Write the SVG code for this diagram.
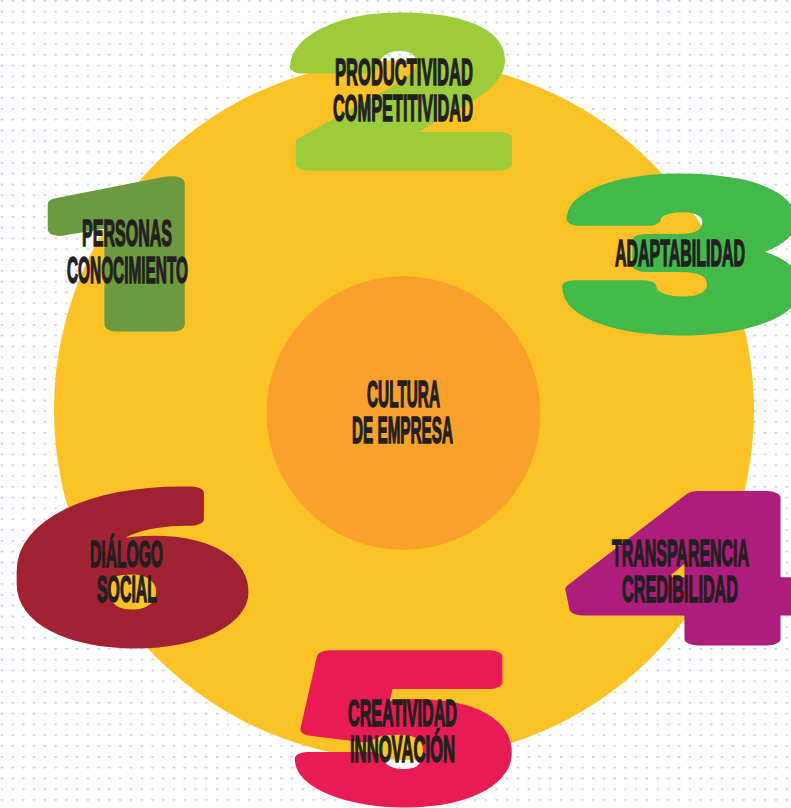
<svg xmlns="http://www.w3.org/2000/svg" width="791" height="808" viewBox="0 0 791 808">
  <defs>
    <pattern id="dots" x="0" y="0" width="10.75" height="10.8" patternUnits="userSpaceOnUse">
      <circle cx="1.95" cy="0.5" r="1.3" fill="#bcd3f0"/>
    </pattern>
  </defs>
  <style>
    .digit { font-family: "Roboto", "Liberation Sans", sans-serif; font-weight: 900; text-anchor: middle; stroke-linejoin: round; stroke-width: 13; }
    .lbl { font-family: "Liberation Sans", "DejaVu Sans", sans-serif; font-weight: bold; font-size: 36px; fill: #231f20; stroke: #231f20; stroke-width: 1.5; text-anchor: middle; }
  </style>
  <rect width="791" height="808" fill="#ffffff"/>
  <rect width="791" height="808" fill="url(#dots)"/>

  <g id="outer-circle">
    <circle cx="404" cy="410" r="350" fill="#fdc326"/>
  </g>

  <g id="node-1">
    <text class="digit" transform="translate(132 325) scale(1.75 1)" font-size="200" fill="#6e9a3f" stroke="#6e9a3f">1</text>
    <text class="lbl" x="127" y="246" textLength="90" lengthAdjust="spacingAndGlyphs">PERSONAS</text>
    <text class="lbl" x="127.5" y="283" textLength="121" lengthAdjust="spacingAndGlyphs">CONOCIMIENTO</text>
  </g>

  <g id="node-2">
    <text class="digit" transform="translate(403 164) scale(1.92 1)" font-size="201" fill="#9ccb3b" stroke="#9ccb3b">2</text>
    <text class="lbl" x="404" y="85" textLength="138" lengthAdjust="spacingAndGlyphs">PRODUCTIVIDAD</text>
    <text class="lbl" x="403" y="121" textLength="140" lengthAdjust="spacingAndGlyphs">COMPETITIVIDAD</text>
  </g>

  <g id="node-3">
    <text class="digit" transform="translate(685 327) scale(2.02 1)" font-size="204" fill="#43b84b" stroke="#43b84b">3</text>
    <text class="lbl" x="680" y="266" textLength="130" lengthAdjust="spacingAndGlyphs">ADAPTABILIDAD</text>
  </g>

  <g id="node-4">
    <text class="digit" transform="translate(688 639) scale(2.1 1)" font-size="199" fill="#ad1e7c" stroke="#ad1e7c">4</text>
    <text class="lbl" x="680.5" y="566" textLength="137" lengthAdjust="spacingAndGlyphs">TRANSPARENCIA</text>
    <text class="lbl" x="680" y="602" textLength="116" lengthAdjust="spacingAndGlyphs">CREDIBILIDAD</text>
  </g>

  <g id="node-5">
    <text class="digit" transform="translate(404 799) scale(1.93 1)" font-size="200" fill="#e91b54" stroke="#e91b54">5</text>
    <text class="lbl" x="402.5" y="726" textLength="109" lengthAdjust="spacingAndGlyphs">CREATIVIDAD</text>
    <text class="lbl" x="402.5" y="762" textLength="105" lengthAdjust="spacingAndGlyphs">INNOVACIÓN</text>
  </g>

  <g id="node-6">
    <text class="digit" transform="translate(130 640) scale(1.98 1)" font-size="204" fill="#a12333" stroke="#a12333">6</text>
    <text class="lbl" x="126.5" y="567" textLength="73" lengthAdjust="spacingAndGlyphs">DIÁLOGO</text>
    <text class="lbl" x="127" y="602" textLength="60" lengthAdjust="spacingAndGlyphs">SOCIAL</text>
  </g>

  <g id="center">
    <circle cx="403.5" cy="413" r="137" fill="#f9a12b"/>
    <text class="lbl" x="403.5" y="407" textLength="73" lengthAdjust="spacingAndGlyphs">CULTURA</text>
    <text class="lbl" x="402.5" y="443" textLength="101" lengthAdjust="spacingAndGlyphs">DE EMPRESA</text>
  </g>

  <g id="connectors"></g>
</svg>
